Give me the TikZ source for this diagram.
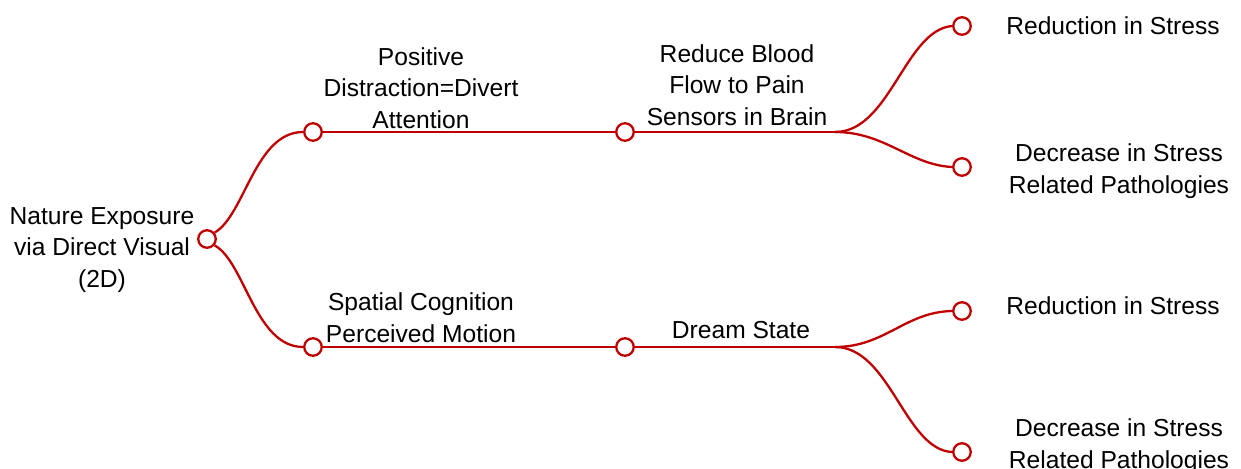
\documentclass[tikz,border=0pt]{standalone}
\usepackage{fontspec}
\setmainfont{Liberation Sans}
\definecolor{mapred}{RGB}{192,0,0}
\begin{document}
\begin{tikzpicture}[x=0.02cm,y=-0.02cm,
  dot/.style={circle,draw=mapred,fill=white,line width=1.3pt,minimum size=0.35cm,inner sep=0pt},
  link/.style={draw=mapred,line width=1.3pt},
  lbl/.style={align=center,inner sep=0pt,font=\fontsize{14}{18}\selectfont}]
\useasboundingbox (0,0) rectangle (1241,469);
% circles
\node[dot] (root) at (207,239) {};
\node[dot] (p1) at (313,132) {};
\node[dot] (p2) at (625,132) {};
\node[dot] (s1) at (313,347) {};
\node[dot] (s2) at (625,347) {};
\node[dot] (l1) at (962,26) {};
\node[dot] (l2) at (962,167) {};
\node[dot] (l3) at (962,311) {};
\node[dot] (l4) at (962,452) {};
\coordinate (b1) at (835,132);
\coordinate (b2) at (835,347);
% connectors
\draw[link] (root.40) .. controls (245,215) and (255,132) .. (p1.west);
\draw[link] (root.-40) .. controls (245,262) and (255,347) .. (s1.west);
\draw[link] (p1) -- (p2);
\draw[link] (p2) -- (b1);
\draw[link] (s1) -- (s2);
\draw[link] (s2) -- (b2);
\draw[link] (b1) .. controls (890,132) and (905,30) .. (l1.west);
\draw[link] (b1) .. controls (885,132) and (910,165) .. (l2.west);
\draw[link] (b2) .. controls (885,347) and (905,312) .. (l3.west);
\draw[link] (b2) .. controls (890,347) and (905,450) .. (l4.west);
% labels
\node[lbl] (troot) at (102,250) {Nature Exposure\\via Direct Visual\\(2D)};
\node[lbl] (tp1) at (421,88) {Positive\\Distraction=Divert\\Attention};
\node[lbl] (tp2) at (737,85) {Reduce Blood\\Flow to Pain\\Sensors in Brain};
\node[lbl] (ts1) at (421,318) {Spatial Cognition\\Perceived Motion};
\node[lbl] (ts2) at (741,330) {Dream State};
\node[lbl] (tl1) at (1113,26) {Reduction in Stress};
\node[lbl] (tl2) at (1119,171) {Decrease in Stress\\Related Pathologies};
\node[lbl] (tl3) at (1113,306) {Reduction in Stress};
\node[lbl] (tl4) at (1119,446) {Decrease in Stress\\Related Pathologies};
\end{tikzpicture}
\end{document}
